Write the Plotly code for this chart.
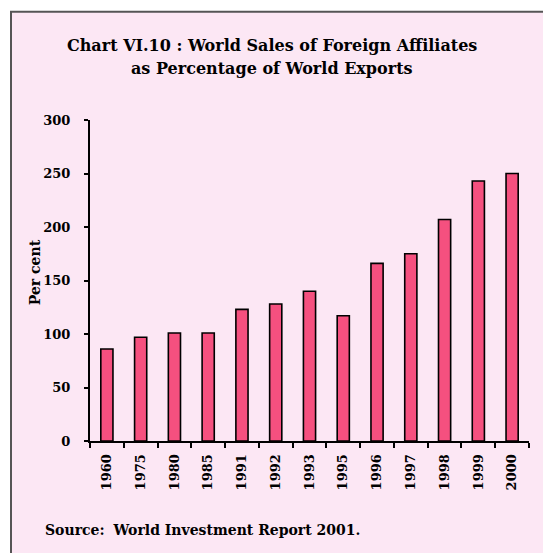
import plotly.graph_objects as go

years = ["1960", "1975", "1980", "1985", "1991", "1992", "1993",
         "1995", "1996", "1997", "1998", "1999", "2000"]
values = [86, 97, 101, 101, 123, 128, 140, 117, 166, 175, 207, 243, 250]
y_ticks = [0, 50, 100, 150, 200, 250, 300]

title_line1 = "<b>Chart VI.10 : World Sales of Foreign Affiliates</b>"
title_line2 = "<b>as Percentage of World Exports</b>"
y_title = "<b>Per cent</b>"
source_text = "<b>Source:</b>  <b>World Investment Report 2001.</b>"

FONT = "DejaVu Serif"
OFF = 8  # page body margin
W, H = 551 - OFF, 553 - OFF
L, R, T, B = 90 - OFF, 22, 119.5 - OFF, 112
pw = W - L - R
ph = H - T - B


def px_x(x):
    return (x - OFF - L) / pw


def px_y(y):
    return (H - B - (y - OFF)) / ph


fig = go.Figure()
fig.add_trace(go.Bar(
    x=years, y=values, width=0.36,
    marker=dict(color="#F5507F", line=dict(color="black", width=1.6)),
))

fig.add_shape(type="rect", xref="paper", yref="paper",
              x0=px_x(11), x1=px_x(570), y0=px_y(11), y1=px_y(570),
              fillcolor="#FCE7F4", line=dict(color="#555555", width=2),
              layer="below")

fig.add_annotation(text=title_line1, xref="paper", yref="paper",
                   x=px_x(272), y=px_y(45), showarrow=False,
                   xanchor="center", yanchor="middle",
                   font=dict(family=FONT, size=16, color="black"))
fig.add_annotation(text=title_line2, xref="paper", yref="paper",
                   x=px_x(272), y=px_y(68), showarrow=False,
                   xanchor="center", yanchor="middle",
                   font=dict(family=FONT, size=16, color="black"))
fig.add_annotation(text=y_title, xref="paper", yref="paper",
                   x=px_x(35), y=px_y(272), showarrow=False, textangle=-90,
                   xanchor="center", yanchor="middle",
                   font=dict(family=FONT, size=14, color="black"))
fig.add_annotation(text=source_text, xref="paper", yref="paper",
                   x=px_x(43), y=px_y(530), xanchor="left", yanchor="middle",
                   showarrow=False,
                   font=dict(family=FONT, size=14, color="black"))

fig.update_layout(
    width=W, height=H,
    margin=dict(l=L, r=R, t=T, b=B),
    paper_bgcolor="white",
    plot_bgcolor="rgba(0,0,0,0)",
    showlegend=False,
)
fig.update_xaxes(
    type="category", tickangle=-90, ticks="outside", tickson="boundaries",
    ticklen=5, tickwidth=1.5, tickcolor="black",
    tickvals=years, ticktext=["<b>%s</b>" % y for y in years],
    showline=True, linecolor="black", linewidth=2, showgrid=False,
    tickfont=dict(family=FONT, size=13, color="black"),
    ticklabelstandoff=6,
)
fig.update_yaxes(
    range=[0, 300], tickvals=y_ticks,
    ticktext=["<b>%d</b>" % v for v in y_ticks],
    ticks="outside", ticklen=4,
    tickwidth=1.5, tickcolor="black",
    showline=True, linecolor="black", linewidth=2, showgrid=False,
    zeroline=False,
    tickfont=dict(family=FONT, size=13, color="black"),
    ticklabelstandoff=11,
)

fig.write_html("out.html")
